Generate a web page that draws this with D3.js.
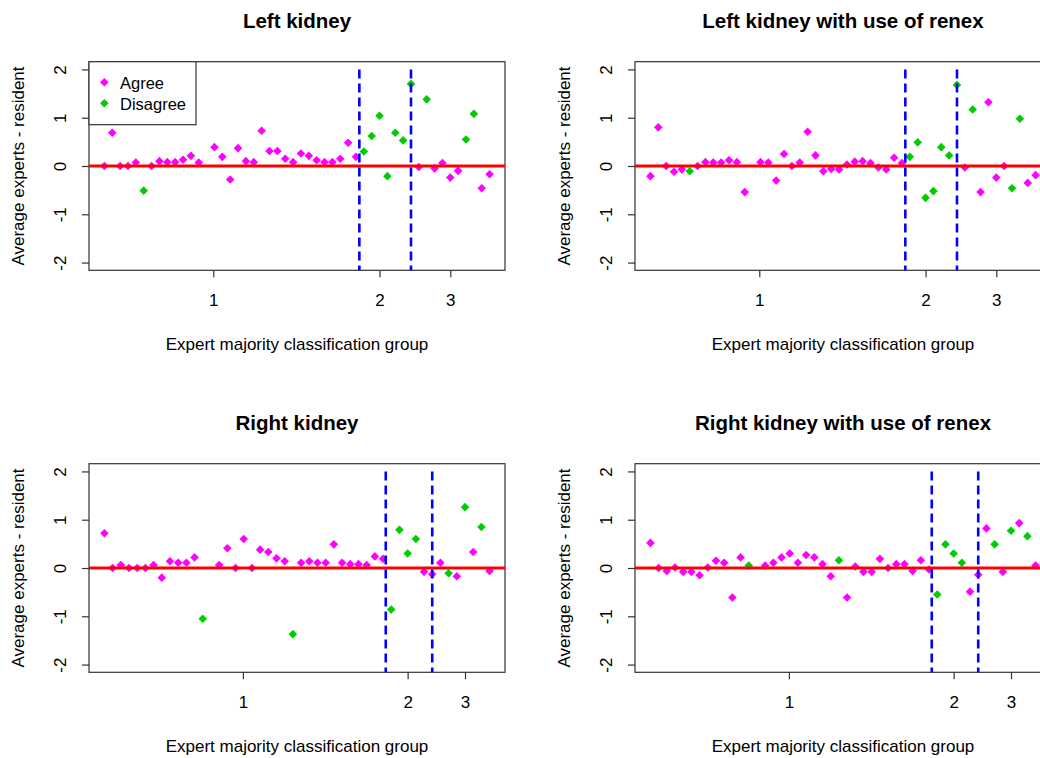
<!DOCTYPE html>
<html>
<head>
<meta charset="utf-8">
<script src="https://cdn.jsdelivr.net/npm/d3@7"></script>
<style>
  body { margin: 0; background: #fff; }
  svg { display: block; font-family: "Liberation Sans", Arial, sans-serif; }
</style>
</head>
<body>
<svg id="chart" width="1040" height="758"></svg>
<script>
// Average experts - resident, one value per case position (null = empty slot)
const leftValues = [
  0.00, 0.69, 0.00, 0.00, 0.07, -0.51, 0.00, 0.10, 0.08, 0.08,
  0.13, 0.21, 0.07, null, 0.39, 0.19, -0.28, 0.37, 0.10, 0.08,
  0.73, 0.31, 0.31, 0.15, 0.08, 0.26, 0.21, 0.12, 0.08, 0.08,
  0.15, 0.48, 0.19, 0.30, 0.62, 1.04, -0.21, 0.69, 0.53, 1.70,
  -0.02, 1.38, -0.05, 0.06, -0.24, -0.10, 0.55, 1.08, -0.46, -0.17
];
const leftRenexValues = [
  -0.21, 0.80, 0.00, -0.12, -0.07, -0.11, 0.00, 0.08, 0.07, 0.07,
  0.12, 0.08, -0.54, null, 0.08, 0.07, -0.30, 0.25, 0.00, 0.07,
  0.71, 0.22, -0.11, -0.06, -0.07, 0.03, 0.09, 0.10, 0.06, -0.03,
  -0.07, 0.17, 0.06, 0.19, 0.49, -0.66, -0.52, 0.39, 0.22, 1.68,
  -0.03, 1.17, -0.54, 1.32, -0.24, 0.00, -0.46, 0.98, -0.35, -0.19
];
const rightValues = [
  0.72, 0.00, 0.06, 0.00, 0.00, 0.00, 0.06, -0.20, 0.14, 0.11,
  0.11, 0.22, -1.05, null, 0.06, 0.41, 0.00, 0.60, 0.00, 0.38,
  0.33, 0.20, 0.14, -1.37, 0.11, 0.14, 0.11, 0.11, 0.49, 0.11,
  0.08, 0.08, 0.06, 0.24, 0.19, -0.86, 0.79, 0.30, 0.60, -0.08,
  -0.13, 0.11, -0.11, -0.17, 1.26, 0.33, 0.85, -0.06
];
const rightRenexValues = [
  0.52, 0.00, -0.06, 0.01, -0.08, -0.08, -0.15, 0.01, 0.15, 0.11,
  -0.61, 0.22, 0.05, null, 0.05, 0.11, 0.22, 0.30, 0.11, 0.27,
  0.22, 0.08, -0.17, 0.16, -0.61, 0.03, -0.08, -0.08, 0.19, 0.00,
  0.08, 0.08, -0.06, 0.16, -0.03, -0.55, 0.49, 0.30, 0.11, -0.49,
  -0.14, 0.82, 0.49, -0.08, 0.77, 0.93, 0.66, 0.05
];

// A = agree, D = disagree, - = empty slot
const leftGroups = "AAAAADAAAAAAA-AAAAAAAAAAAAAAAAAAADDDDDDDADAAAADDAA".split("");
const rightGroups = "AAAAAAAAAAAAD-AAAAAAAAADAAAAAAAAAAADDDDAAADADADA".split("");

// group boundaries and group label positions (in case-position units)
const leftCuts = [33.43, 40];
const leftTicks = [14.85, 36, 45];
const rightCuts = [35.33, 41];
const rightTicks = [17.9, 38, 45];
const tickLabels = ["1", "2", "3"];
const yTicks = [-2, -1, 0, 1, 2];

const legendLabels = ["Agree", "Disagree"];
const colours = { A: "#ff00ff", D: "#00cd00" };

const panels = [
  { title: "Left kidney", values: leftValues, groups: leftGroups, cuts: leftCuts, ticks: leftTicks, left: 89, top: 61.7, legend: true },
  { title: "Left kidney with use of renex", values: leftRenexValues, groups: leftGroups, cuts: leftCuts, ticks: leftTicks, left: 635, top: 61.7 },
  { title: "Right kidney", values: rightValues, groups: rightGroups, cuts: rightCuts, ticks: rightTicks, left: 89, top: 463.7 },
  { title: "Right kidney with use of renex", values: rightRenexValues, groups: rightGroups, cuts: rightCuts, ticks: rightTicks, left: 635, top: 463.7 },
];

const W = 416, H = 208.6;
const svg = d3.select("#chart");
svg.append("rect").attr("width", 1040).attr("height", 758).attr("fill", "#fff");

const diamond = "M0,-4.3L4.3,0L0,4.3L-4.3,0Z";

function drawPanel(p) {
  const n = p.values.length;
  const pad = 0.04 * (n - 1);
  const x = d3.scaleLinear().domain([1 - pad, n + pad]).range([p.left, p.left + W]);
  const y = d3.scaleLinear().domain([-2.16, 2.16]).range([p.top + H, p.top]);

  const g = svg.append("g");

  const pts = p.values
    .map((v, i) => ({ i: i + 1, v: v, grp: p.groups[i] }))
    .filter((d) => d.v !== null);

  g.append("g")
    .selectAll("path")
    .data(pts)
    .enter()
    .append("path")
    .attr("d", diamond)
    .attr("transform", (d) => `translate(${x(d.i)},${y(d.v)})`)
    .attr("fill", (d) => colours[d.grp]);

  // box
  g.append("rect")
    .attr("x", p.left)
    .attr("y", p.top)
    .attr("width", W)
    .attr("height", H)
    .attr("fill", "none")
    .attr("stroke", "#333")
    .attr("stroke-width", 1.2);

  // x axis
  const xAxis = g.append("g")
    .attr("transform", `translate(0,${p.top + H})`)
    .call(
      d3.axisBottom(x)
        .tickValues(p.ticks)
        .tickFormat((d, i) => tickLabels[i])
        .tickSize(7)
        .tickPadding(17)
    );
  xAxis.select(".domain").remove();
  xAxis.selectAll("line").attr("stroke", "#333").attr("stroke-width", 1.2);
  xAxis.selectAll("text").attr("font-size", 17).attr("font-family", null).attr("fill", "#000");

  // y axis
  const yAxis = g.append("g")
    .attr("transform", `translate(${p.left},0)`)
    .call(d3.axisLeft(y).tickValues(yTicks).tickFormat((d) => String(d)).tickSize(7));
  yAxis.select(".domain").remove();
  yAxis.selectAll("line").attr("stroke", "#333").attr("stroke-width", 1.2);
  yAxis.selectAll("text")
    .attr("transform", "rotate(-90)")
    .attr("x", 0)
    .attr("y", -23)
    .attr("dy", null)
    .attr("text-anchor", "middle")
    .attr("font-size", 17)
    .attr("font-family", null)
    .attr("fill", "#000");

  // reference lines
  g.append("line")
    .attr("x1", p.left)
    .attr("x2", p.left + W)
    .attr("y1", y(0))
    .attr("y2", y(0))
    .attr("stroke", "#ff0000")
    .attr("stroke-width", 3);

  g.append("g")
    .selectAll("line")
    .data(p.cuts)
    .enter()
    .append("line")
    .attr("x1", (d) => x(d))
    .attr("x2", (d) => x(d))
    .attr("y1", y(2))
    .attr("y2", p.top + H)
    .attr("stroke", "#0000ff")
    .attr("stroke-width", 2.6)
    .attr("stroke-dasharray", "9,5");

  // titles
  g.append("text")
    .attr("x", p.left + W / 2)
    .attr("y", p.top - 33.5)
    .attr("text-anchor", "middle")
    .attr("font-size", 20.5)
    .attr("font-weight", "bold")
    .text(p.title);

  g.append("text")
    .attr("x", p.left + W / 2)
    .attr("y", p.top + H + 80)
    .attr("text-anchor", "middle")
    .attr("font-size", 17)
    .text("Expert majority classification group");

  g.append("text")
    .attr("transform", `translate(${p.left - 65},${p.top + H / 2}) rotate(-90)`)
    .attr("text-anchor", "middle")
    .attr("font-size", 17)
    .text("Average experts - resident");

  if (p.legend) {
    const lg = g.append("g").attr("transform", `translate(${p.left},${p.top})`);
    lg.append("rect")
      .attr("width", 107)
      .attr("height", 63)
      .attr("fill", "#fff")
      .attr("stroke", "#333")
      .attr("stroke-width", 1.2);
    const item = lg.selectAll(".item")
      .data(legendLabels)
      .enter()
      .append("g")
      .attr("class", "item")
      .attr("transform", (d, i) => `translate(0,${20.6 + i * 21})`);
    item.append("path")
      .attr("d", diamond)
      .attr("transform", "translate(15.3,0)")
      .attr("fill", (d, i) => (i === 0 ? colours.A : colours.D));
    item.append("text")
      .attr("x", 31)
      .attr("y", 7)
      .attr("font-size", 16.5)
      .text((d) => d);
  }
}

panels.forEach(drawPanel);
</script>
</body>
</html>
